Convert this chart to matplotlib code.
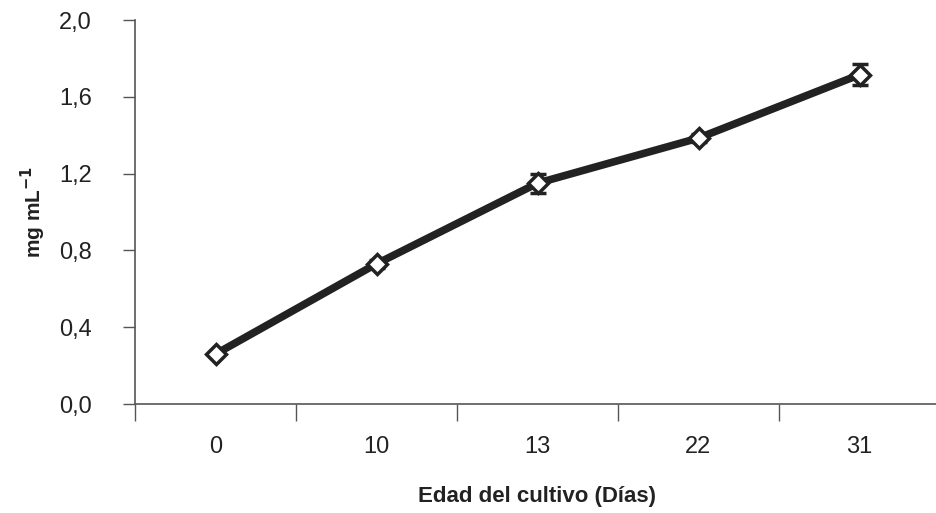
import matplotlib
matplotlib.use("Agg")
import matplotlib.pyplot as plt
from matplotlib import font_manager
from matplotlib.ticker import FixedLocator, FuncFormatter

categories = ["0", "10", "13", "22", "31"]
values = [0.26, 0.73, 1.15, 1.385, 1.715]
errors = [0.012, 0.02, 0.05, 0.02, 0.055]
yticks = [0.0, 0.4, 0.8, 1.2, 1.6, 2.0]

names = {f.name for f in font_manager.fontManager.ttflist}
fam = "Liberation Sans Narrow" if "Liberation Sans Narrow" in names else "Liberation Sans"
plt.rcParams["font.family"] = [fam, "DejaVu Sans"]

fig = plt.figure(figsize=(9.36, 5.13), dpi=100)
ax = fig.add_axes([135/936, (513-404)/513, (940-135)/936, (404-20)/513])

x = list(range(len(categories)))
line_col = "#222222"
ax.errorbar(x, values, yerr=errors, color=line_col, lw=5.5, capsize=6, capthick=2.5,
            elinewidth=2, marker="D", markersize=10, markerfacecolor="white",
            markeredgecolor=line_col, markeredgewidth=2.5, zorder=3)

ax.set_xlim(-0.5, 4.5)
ax.set_ylim(0, 2.0)
ax.set_xticks(x)
ax.set_xticklabels(categories)
ax.xaxis.set_minor_locator(FixedLocator([-0.5, 0.5, 1.5, 2.5, 3.5]))
ax.tick_params(axis="x", which="major", length=0, pad=23, labelsize=17, colors="#222222")
ax.tick_params(axis="x", which="minor", length=12, width=1, color="#555555", direction="out")
ax.set_yticks(yticks)
ax.yaxis.set_major_formatter(FuncFormatter(lambda v, p: f"{v:.1f}".replace(".", ",")))
ax.tick_params(axis="y", length=9, width=1, color="#555555", direction="out", pad=22,
               labelsize=17, labelcolor="#222222")

for s in ["top", "right"]:
    ax.spines[s].set_visible(False)
for s in ["left", "bottom"]:
    ax.spines[s].set_color("#555555")
    ax.spines[s].set_linewidth(1.2)

ax.set_ylabel("mg mL$^{\\mathbf{-1}}$", fontsize=15, fontweight="bold", color="#222222", labelpad=8)
ax.set_xlabel("Edad del cultivo (Días)", fontsize=16, fontweight="bold", color="#222222", labelpad=20)

fig.savefig("out.png", dpi=100)
